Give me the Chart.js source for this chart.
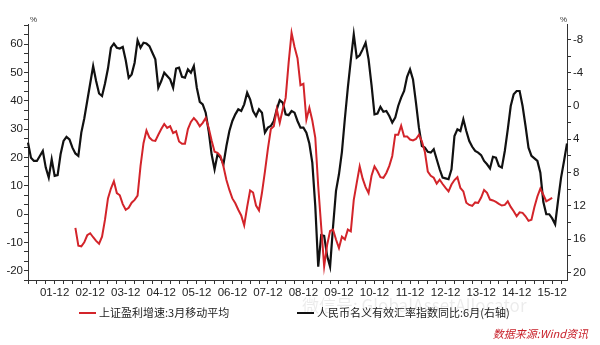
<!DOCTYPE html>
<html>
<head>
<meta charset="utf-8">
<script src="https://cdn.jsdelivr.net/npm/chart.js@4"></script>
<style>
  html, body { margin: 0; padding: 0; background: #fff; }
  #wrap { position: relative; width: 600px; height: 345px; }
  #chart { position: absolute; left: 0; top: 0; }
  .legend { position: absolute; font: 11px "Noto Sans CJK SC", sans-serif; color: #222; white-space: nowrap; }
  .legend i { display: inline-block; width: 17px; height: 2px; vertical-align: middle; margin-right: 3px; position: relative; top: -1px; }
  .unit { position: absolute; font: 8px "Liberation Sans", sans-serif; color: #333; }
  #source { position: absolute; right: 12px; top: 325px; font: italic 11px "Noto Sans CJK SC", sans-serif; color: #c8202a; }
  #mark { position: absolute; left: 302px; top: 292px; font: 17px "Noto Sans CJK SC", sans-serif; color: rgba(0,0,0,0.08); white-space: nowrap; }
</style>
</head>
<body>
<div id="wrap">
  <canvas id="chart" width="600" height="345"></canvas>
  <div class="unit" style="left:30px;top:15px">%</div>
  <div class="unit" style="left:560px;top:15px">%</div>
  <div id="mark">微信号: GlobalAssetAllocator</div>
  <div class="legend" style="left:79px;top:304px"><i style="background:#d3242a"></i>上证盈利增速:3月移动平均</div>
  <div class="legend" style="left:297px;top:304px"><i style="background:#111"></i>人民币名义有效汇率指数同比:6月(右轴)</div>
  <div id="source">数据来源:Wind资讯</div>
</div>
<script>
// monthly categories, 2001-03 .. 2016-05
const months = [];
for (let y = 2001, m = 3; months.length < 183; m++) {
  if (m > 12) { m = 1; y++; }
  months.push(`${String(y % 100).padStart(2, "0")}-${String(m).padStart(2, "0")}`);
}

// 上证盈利增速:3月移动平均 (left axis, %), starts 2002-07
const profitGrowth = [
  null, null, null, null, null, null, null, null, null, null, null, null, null, null, null, null,
  -4.9, -11.2, -11.4, -10, -7.5, -6.8, -8.2, -9.5, -10.5, -8.0,
  -2.0, 5.5, 9.0, 11.6, 7.4, 6.6, 3.5, 1.5, 2.2, 4.0,
  5.0, 6.5, 17, 25, 29.5, 27, 26, 25.8, 28, 30,
  31.8, 30.4, 31.0, 28.6, 29.2, 25.6, 24.8, 24.8, 30, 32.5,
  33.9, 32.7, 31.0, 32.2, 33.9, 30.5, 26, 22, 21.6, 20.5,
  16.8, 12, 8.5, 5.5, 3.8, 1.5, -0.5, -4.0, 2.5, 8.3,
  7.6, 3.0, 1.3, 7.5, 15, 23, 30, 31, 37, 32.2,
  36.9, 41, 53.4, 64, 59, 55, 45.5, 46, 33.3, 37.5,
  33, 27, 9.8, -4.4, -18.5, -11, -6, -5.5, -9, -12,
  -8, -9, -5.5, -6.1, 5, 11, 16.8, 12.5, 9.5, 7.4,
  13.5, 16.8, 15.1, 13.0, 12.8, 14.5, 17, 20.5, 28, 28,
  31.2, 27.4, 27.4, 26.3, 26.0, 26.5, 28, 25.7, 22, 15,
  13.5, 12.8, 10.7, 12.1, 10.6, 9.2, 8.0, 10.4, 12, 13.0,
  9.2, 8.0, 4.0, 3.2, 2.9, 4.1, 3.9, 5.8, 8.5, 7.5,
  5.1, 4.8, 4.3, 3.6, 3.0, 3.2, 4.5, 2.5, 1.0, -0.8,
  0.6, 0.4, -0.8, -2.4, -2.0, 2.5, 6.2, 9.0, 6.8, 4.5,
  5.1, 5.7
];

// 人民币名义有效汇率指数同比:6月 (right axis, reversed, %)
const rmbNeer = [
  4.4, 6.2, 6.6, 6.6, 6.0, 5.4, 7.4, 8.6, 6.4, 8.4,
  8.3, 5.8, 4.2, 3.7, 4.0, 5.0, 5.7, 6.0, 3.2, 1.5,
  -0.6, -2.7, -4.8, -3.0, -1.5, -1.2, -2.7, -4.5, -7.0, -7.5,
  -7.0, -6.9, -7.1, -5.5, -3.4, -3.8, -5.2, -7.9, -7.0, -7.6,
  -7.5, -7.2, -6.4, -5.6, -2.2, -3.0, -4.0, -3.6, -3.2, -2.2,
  -4.5, -4.6, -3.5, -3.4, -4.4, -4.0, -4.8, -2.2, -0.5, -0.2,
  0.8, 3.0, 5.8, 7.6, 5.8, 6.2, 7.0, 4.8, 3.0, 1.8,
  1.0, 0.4, 0.6, -0.2, -1.6, -0.8, 0.6, 1.2, 0.4, 0.8,
  3.2, 2.6, 2.4, 1.8, 0.4, -0.7, -0.4, 1.0, 1.1, 0.6,
  0.8, 1.8, 2.6, 2.6, 3.2, 4.5, 6.8, 12, 19.3, 15.5,
  15.6, 18.0, 19.3, 14.5, 10.2, 8.2, 5.5, 1.5, -2.2, -5.5,
  -8.6, -5.8, -6.1, -6.8, -7.6, -5.6, -2.5, 1.0, 0.9, 0.1,
  0.7, 0.6, 1.2, 2.0, 1.4, 0.0, -1.0, -1.8, -3.5, -4.4,
  -3.2, -0.4, 2.6, 4.8, 5.0, 5.5, 5.6, 5.2, 6.4, 7.6,
  8.6, 8.7, 8.8, 7.6, 3.6, 2.8, 3.0, 1.6, 3.0, 4.2,
  4.9, 5.4, 5.6, 5.9, 6.6, 7.0, 7.5, 6.1, 6.2, 7.2,
  7.4, 5.4, 2.8, 0.0, -1.4, -1.8, -1.8, 0.0, 2.4, 5.0,
  6.0, 6.3, 6.6, 8.0, 11.5, 13.0, 13.0, 13.5, 14.2, 11.3,
  8.6, 6.6, 4.5
];

const leftTicks = [];
for (let k = -7; k <= 20; k++) leftTicks.push(k * 10 / 3);
const rightTicks = [-8, -6, -4, -2, 0, 2, 4, 6, 8, 10, 12, 14, 16, 18, 20];

const tickFont = { family: "Liberation Sans", size: 11.5 };
const axisColor = "#333";

new Chart(document.getElementById("chart"), {
  type: "line",
  data: {
    labels: months,
    datasets: [
      {
        label: "上证盈利增速:3月移动平均",
        data: profitGrowth,
        yAxisID: "yL",
        borderColor: "#d3242a",
        borderWidth: 2,
        pointRadius: 0,
        tension: 0
      },
      {
        label: "人民币名义有效汇率指数同比:6月(右轴)",
        data: rmbNeer,
        yAxisID: "yR",
        borderColor: "#111",
        borderWidth: 2.2,
        pointRadius: 0,
        tension: 0
      }
    ]
  },
  options: {
    responsive: false,
    animation: false,
    layout: { padding: { top: 24, left: 0, right: 0, bottom: 0 } },
    plugins: { legend: { display: false }, tooltip: { enabled: false } },
    scales: {
      x: {
        offset: false,
        afterFit: (s) => { s.height = 65; },
        border: { color: axisColor, width: 1 },
        grid: {
          drawOnChartArea: false,
          tickLength: 4,
          color: (ctx) => (ctx.index % 3 === 0 ? axisColor : "rgba(0,0,0,0)")
        },
        ticks: {
          autoSkip: false,
          maxRotation: 0,
          minRotation: 0,
          padding: 2,
          color: "#222",
          font: tickFont,
          callback: function (value) {
            const lab = this.getLabelForValue(value);
            return lab.endsWith("-12") ? lab : "";
          }
        }
      },
      yL: {
        position: "left",
        min: -23.3,
        max: 67.1,
        afterFit: (s) => { s.width = 28; },
        afterBuildTicks: (s) => { s.ticks = leftTicks.map((v) => ({ value: v })); },
        border: { color: axisColor, width: 1 },
        grid: { drawOnChartArea: false, tickLength: 4, color: axisColor },
        ticks: {
          autoSkip: false,
          padding: 1,
          color: "#222",
          font: tickFont,
          callback: (v) => {
            const r = Math.round(v / 10) * 10;
            return Math.abs(v - r) < 0.01 ? String(r) : "";
          }
        }
      },
      yR: {
        position: "right",
        reverse: true,
        min: -9.85,
        max: 20.9,
        afterFit: (s) => { s.width = 33; },
        afterBuildTicks: (s) => { s.ticks = rightTicks.map((v) => ({ value: v })); },
        border: { color: axisColor, width: 1 },
        grid: { drawOnChartArea: false, tickLength: 4, color: axisColor },
        ticks: {
          autoSkip: false,
          padding: 2,
          color: "#222",
          font: tickFont,
          callback: (v) => (v % 4 === 0 ? String(v) : "")
        }
      }
    }
  }
});
</script>
</body>
</html>
